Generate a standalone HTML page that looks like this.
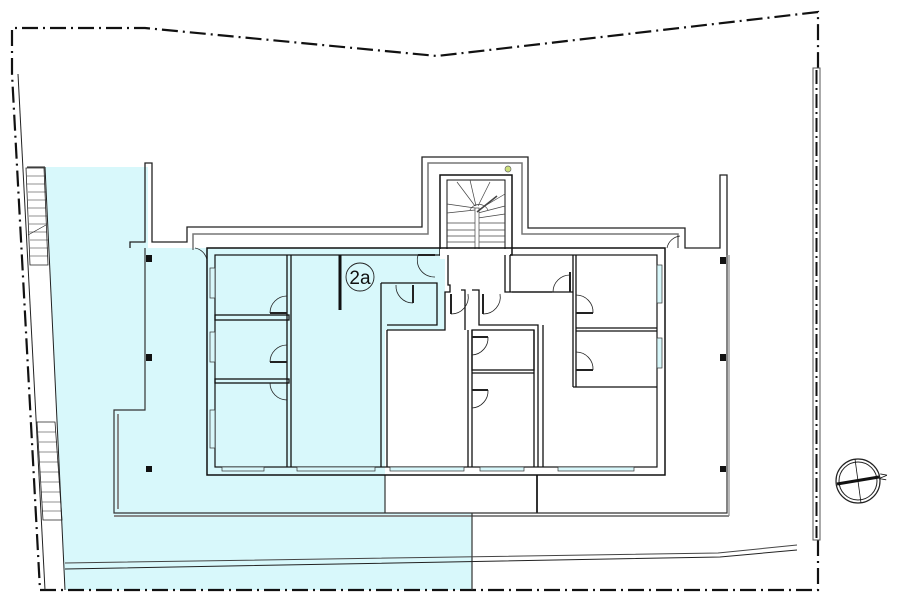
<!DOCTYPE html>
<html><head><meta charset="utf-8"><style>
html,body{margin:0;padding:0;background:#fff;}
svg{display:block;}
</style></head><body>
<svg width="900" height="612" viewBox="0 0 900 612" xmlns="http://www.w3.org/2000/svg" font-family="Liberation Sans, sans-serif">
<!-- blue zone -->
<polygon points="45,167 148,167 148,248 445,248 445,330 385,330 385,513 472,513 472,590 65,590" fill="#d8f8fb"/>
<!-- property boundary -->
<g fill="none" stroke="#111" stroke-width="2.2" stroke-dasharray="16,5,2,5">
<polyline points="12,74 12,28 145,28 437,56 818,12 818,70"/>
<polyline points="818,540 818,590 40,590 12,74"/>
</g>
<!-- left strip -->
<g fill="none" stroke="#222" stroke-width="1">
<line x1="18" y1="74" x2="45" y2="590"/>
<line x1="45" y1="167" x2="65" y2="590"/>
<line x1="27" y1="167" x2="45" y2="167"/>
</g>
<g stroke="#222" stroke-width="0.8">
<path d="M26,168 L44,168 L48,265 L30,265 Z" fill="none"/>
<path d="M37,422 L55,422 L62,520 L43,520 Z" fill="none"/>
</g>
<g stroke="#222" stroke-width="0.6">
<line x1="27" y1="176" x2="45" y2="176"/><line x1="27" y1="184" x2="45" y2="184"/><line x1="28" y1="192" x2="46" y2="192"/><line x1="28" y1="200" x2="46" y2="200"/><line x1="28" y1="208" x2="46" y2="208"/><line x1="29" y1="216" x2="47" y2="216"/><line x1="29" y1="224" x2="47" y2="224"/><line x1="29" y1="232" x2="47" y2="232"/><line x1="30" y1="240" x2="48" y2="240"/><line x1="30" y1="248" x2="48" y2="248"/><line x1="30" y1="256" x2="48" y2="256"/>
<line x1="28" y1="235" x2="46" y2="225"/>
<line x1="38" y1="432" x2="56" y2="432"/><line x1="39" y1="442" x2="57" y2="442"/><line x1="39" y1="452" x2="58" y2="452"/><line x1="40" y1="462" x2="58" y2="462"/><line x1="40" y1="472" x2="59" y2="472"/><line x1="41" y1="482" x2="59" y2="482"/><line x1="41" y1="492" x2="60" y2="492"/><line x1="42" y1="502" x2="61" y2="502"/><line x1="42" y1="511" x2="61" y2="511"/>
</g>
<!-- right boundary element -->
<rect x="813" y="68" width="7" height="472" fill="#fff" stroke="#555" stroke-width="1"/>
<line x1="816.5" y1="70" x2="816.5" y2="538" stroke="#111" stroke-width="2" stroke-dasharray="14,4,2,4"/>
<!-- terraces -->
<g fill="none" stroke="#333" stroke-width="1.2">
<polyline points="145,248 145,410 114,410 114,513 727,513 727,255"/>
<polyline points="118,414 118,509" stroke="#888" stroke-width="2"/>
<line x1="114" y1="516" x2="729" y2="516" stroke="#888" stroke-width="2"/>
<line x1="729" y1="255" x2="729" y2="516" stroke="#888"/>
<line x1="385" y1="475" x2="385" y2="513"/>
<line x1="537" y1="475" x2="537" y2="513" stroke-width="2"/>
<line x1="472" y1="513" x2="472" y2="590"/>
</g>
<!-- path -->
<g fill="none" stroke="#444" stroke-width="1">
<polyline points="65,563 718,553 797,545"/>
<polyline points="65,569 720,557 797,550" stroke="#222"/>
</g>
<!-- parapets -->
<g fill="none" stroke="#222" stroke-width="1.3">
<polyline points="130,248 130,242 145,242 145,163 152,163 152,242 187,242 187,227 422,227 422,157 528,157 528,228 685,228 685,248 720,248 720,175 727,175 727,255"/>
<polyline points="193,250 193,234 428,234 428,163 522,163 522,234 678,234 678,248" stroke="#777" stroke-width="1.5"/>
</g>
<!-- stair core -->
<rect x="440" y="175" width="72" height="80" fill="#fff" stroke="#111" stroke-width="1.5"/>
<rect x="447" y="180" width="58" height="70" fill="#fff" stroke="#111" stroke-width="1"/>
<g stroke="#444" stroke-width="0.7">
<line x1="447" y1="236" x2="505" y2="236"/><line x1="447" y1="242" x2="505" y2="242"/><line x1="447" y1="230" x2="505" y2="230"/><line x1="447" y1="223" x2="505" y2="223"/><line x1="447" y1="213" x2="475" y2="210"/><line x1="447" y1="204" x2="475" y2="208"/><line x1="457" y1="182" x2="475" y2="206"/><line x1="470" y1="180" x2="476" y2="206"/><line x1="490" y1="182" x2="478" y2="206"/><line x1="505" y1="194" x2="478" y2="210"/><line x1="505" y1="206" x2="478" y2="213"/><line x1="505" y1="214" x2="478" y2="218"/>
<path d="M470,210 A10,10 0 0 1 488,210" fill="none"/>
<rect x="475" y="208" width="4" height="45" fill="#fff"/>
<line x1="477" y1="212" x2="497" y2="196" stroke-width="1.5"/>
</g>
<circle cx="508" cy="169" r="3" fill="#cde07a" stroke="#666" stroke-width="0.7"/>
<!-- building -->
<rect x="207" y="248" width="458" height="227" fill="none" stroke="#111" stroke-width="1.5"/>
<rect x="215" y="255" width="442" height="212" fill="none" stroke="#111" stroke-width="1.2"/>
<rect x="440" y="249" width="70" height="10" fill="#fff"/>
<polygon points="448,255 448,285 505,285 505,255" fill="#fff"/>
<g fill="none" stroke="#111" stroke-width="1.3">
<!-- left rooms -->
<line x1="287" y1="255" x2="287" y2="467"/><line x1="291" y1="255" x2="291" y2="467"/>
<rect x="215" y="315" width="74" height="5"/>
<rect x="215" y="379" width="74" height="4"/>
<line x1="340" y1="255" x2="340" y2="310" stroke-width="3"/>
<!-- middle -->
<line x1="381" y1="283" x2="381" y2="467"/><line x1="387" y1="330" x2="387" y2="467"/>
<polyline points="381,283 437,283 437,325 387,325"/>
<polyline points="387,330 445,330 445,292 450,292 450,285 448,285 448,255"/>
<polyline points="505,255 505,292 573,292"/>
<line x1="510" y1="255" x2="510" y2="292"/>
<polyline points="468,330 468,467"/><polyline points="472,330 472,467"/>
<polyline points="472,290 479,290 479,325 538,325 538,467"/><line x1="543" y1="325" x2="543" y2="467"/>
<polyline points="461,290 465,290 465,330"/>
<rect x="472" y="330" width="62" height="40"/>
<line x1="472" y1="373" x2="534" y2="373"/>
<line x1="534" y1="330" x2="534" y2="467"/>
<!-- right rooms -->
<line x1="573" y1="255" x2="573" y2="387"/><line x1="576" y1="255" x2="576" y2="387"/>
<line x1="576" y1="328" x2="657" y2="328"/><line x1="576" y1="331" x2="657" y2="331"/>
<line x1="573" y1="387" x2="657" y2="387"/>
<line x1="512" y1="292" x2="552" y2="292"/>
</g>
<!-- doors -->
<g fill="none" stroke="#222" stroke-width="0.8">
<path d="M270,313 A17,17 0 0 1 287,296"/><line x1="270" y1="313" x2="287" y2="313" stroke-width="2"/>
<path d="M270,362 A17,17 0 0 1 287,345"/><line x1="270" y1="362" x2="287" y2="362" stroke-width="2"/>
<path d="M270,383 A17,17 0 0 0 287,400"/>
<path d="M418,255 A17,17 0 0 0 435,277"/><line x1="418" y1="255" x2="435" y2="255" stroke-width="2"/>
<path d="M396,285 A17,17 0 0 0 413,303"/><line x1="413" y1="285" x2="413" y2="303" stroke-width="2"/>
<path d="M451,314 A17,17 0 0 0 468,294"/><line x1="451" y1="294" x2="451" y2="314" stroke-width="2"/>
<path d="M483,314 A17,17 0 0 0 500,294"/><line x1="483" y1="294" x2="483" y2="314" stroke-width="2"/>
<path d="M472,355 A17,17 0 0 0 488,337"/><line x1="472" y1="337" x2="488" y2="337" stroke-width="2"/>
<path d="M472,408 A17,17 0 0 0 488,390"/><line x1="472" y1="390" x2="488" y2="390" stroke-width="2"/>
<path d="M553,292 A17,17 0 0 1 570,275"/><line x1="570" y1="272" x2="570" y2="292" stroke-width="2"/>
<path d="M576,295 A17,17 0 0 1 593,313"/><line x1="576" y1="313" x2="593" y2="313" stroke-width="2"/>
<path d="M576,352 A17,17 0 0 1 593,370"/><line x1="576" y1="370" x2="593" y2="370" stroke-width="2"/>
<path d="M667,248 A15,15 0 0 1 680,236"/><path d="M195,248 A15,15 0 0 1 207,260"/>
</g>
<!-- windows -->
<g fill="#d8f8fb" stroke="#333" stroke-width="0.7">
<rect x="210" y="268" width="5" height="30"/><rect x="210" y="332" width="5" height="30"/><rect x="210" y="410" width="5" height="38"/>
<rect x="657" y="265" width="5" height="38"/><rect x="657" y="338" width="5" height="30"/>
<rect x="222" y="467" width="42" height="4"/><rect x="297" y="467" width="78" height="4"/><rect x="390" y="467" width="74" height="4"/><rect x="480" y="467" width="44" height="4"/><rect x="558" y="467" width="76" height="4"/>
</g>
<!-- pillars -->
<g fill="#111">
<rect x="146" y="255" width="6" height="7"/><rect x="146" y="354" width="6" height="7"/><rect x="146" y="466" width="6" height="6"/>
<rect x="720" y="257" width="6" height="7"/><rect x="720" y="354" width="6" height="7"/><rect x="720" y="466" width="6" height="6"/>
</g>
<!-- label -->
<circle cx="360" cy="277" r="14" fill="none" stroke="#222" stroke-width="0.9"/>
<text x="360" y="284" font-size="19" text-anchor="middle" fill="#111">2a</text>
<!-- compass -->
<circle cx="858" cy="481" r="22" fill="#fff" stroke="#222" stroke-width="1.2"/>
<circle cx="858" cy="481" r="19" fill="none" stroke="#222" stroke-width="1"/>
<line x1="837" y1="484" x2="879" y2="477" stroke="#111" stroke-width="3"/>
<line x1="855" y1="459" x2="861" y2="503" stroke="#111" stroke-width="0.8"/>
<text x="886" y="481" font-size="10" fill="#111" transform="rotate(-80 886 481)">N</text>
</svg>
</body></html>
